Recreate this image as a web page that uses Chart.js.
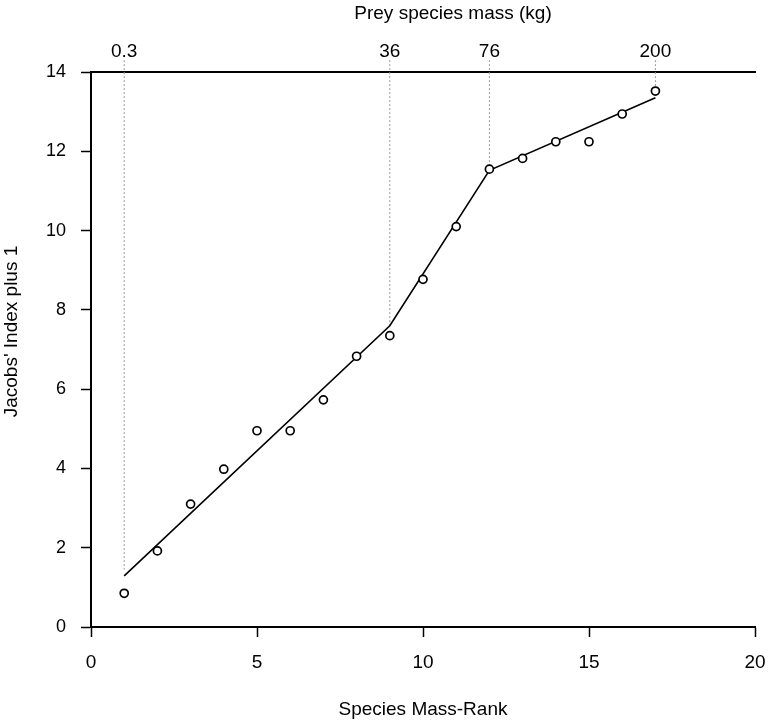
<!DOCTYPE html>
<html>
<head>
<meta charset="utf-8">
<script src="https://cdn.jsdelivr.net/npm/chart.js@4"></script>
<style>
  body { margin: 0; background: #fff; }
</style>
</head>
<body>
<canvas id="prey-chart" width="768" height="725"></canvas>
<script>
// observed Jacobs' index (+1) by species mass rank
const massRank = [1, 2, 3, 4, 5, 6, 7, 8, 9, 10, 11, 12, 13, 14, 15, 16, 17];
const jacobsIndex = [0.85, 1.92, 3.1, 3.98, 4.95, 4.95, 5.73, 6.83, 7.35, 8.77, 10.1, 11.55, 11.82, 12.24, 12.24, 12.94, 13.52];

// piecewise linear fit
const fitRank = [1, 9, 12, 17];
const fitValue = [1.29, 7.6, 11.52, 13.35];

// top axis: prey mass at the break points
const topTickRank = [1, 9, 12, 17];
const topTickLabels = ["0.3", "36", "76", "200"];
const dropTop = 14.3;
const dropEnd = [1.45, 7.6, 11.65, 13.65];

const font = "'Liberation Sans', Arial, sans-serif";

const dropSets = topTickRank.map((r, i) => ({
  data: [{ x: r, y: dropTop }, { x: r, y: dropEnd[i] }],
  showLine: true,
  borderColor: "#9a9a9a",
  borderWidth: 1,
  borderDash: [2, 2],
  pointRadius: 0,
  clip: false,
  order: 3,
}));

// the original titles sit a little off the axis centres
const offsetTitles = {
  id: "offsetTitles",
  afterDraw(chart) {
    const { ctx, chartArea } = chart;
    ctx.save();
    ctx.fillStyle = "#000";
    ctx.font = "19px " + font;
    ctx.textAlign = "center";
    ctx.textBaseline = "middle";
    ctx.fillText("Prey species mass (kg)", (chartArea.left + chartArea.right) / 2 + 30, 14);
    ctx.translate(12, (chartArea.top + chartArea.bottom) / 2 - 18);
    ctx.rotate(-Math.PI / 2);
    ctx.fillText("Jacobs' Index plus 1", 0, 0);
    ctx.restore();
  },
};

new Chart(document.getElementById("prey-chart"), {
  type: "scatter",
  data: {
    datasets: [
      {
        label: "Observed",
        data: massRank.map((r, i) => ({ x: r, y: jacobsIndex[i] })),
        pointStyle: "circle",
        pointRadius: 4,
        pointBorderWidth: 1.7,
        pointBorderColor: "#000",
        pointBackgroundColor: "#fff",
        order: 0,
      },
      {
        label: "Fit",
        data: fitRank.map((r, i) => ({ x: r, y: fitValue[i] })),
        showLine: true,
        borderColor: "#000",
        borderWidth: 1.6,
        pointRadius: 0,
        order: 1,
      },
      ...dropSets,
    ],
  },
  options: {
    responsive: false,
    animation: false,
    layout: { padding: 0 },
    plugins: {
      legend: { display: false },
      tooltip: { enabled: false },
    },
    scales: {
      x: {
        type: "linear",
        position: "bottom",
        min: 0,
        max: 20,
        afterFit: (s) => { s.height = 98; s.paddingRight = 13; },
        ticks: { stepSize: 5, color: "#000", font: { family: font, size: 19 }, padding: 14 },
        grid: { drawOnChartArea: false, tickLength: 10, color: "#000", tickWidth: 1.5 },
        border: { color: "#000", width: 2 },
        title: {
          display: true,
          text: "Species Mass-Rank",
          color: "#000",
          font: { family: font, size: 19 },
          padding: { top: 8 },
        },
      },
      x2: {
        type: "linear",
        position: "top",
        min: 0,
        max: 20,
        afterFit: (s) => { s.height = 72; s.paddingRight = 13; },
        afterBuildTicks: (s) => { s.ticks = topTickRank.map((v) => ({ value: v })); },
        ticks: {
          color: "#000",
          font: { family: font, size: 19 },
          padding: 1,
          autoSkip: false,
          maxRotation: 0,
          callback: (v) => topTickLabels[topTickRank.indexOf(v)],
        },
        grid: { display: false },
        border: { color: "#000", width: 2 },
      },
      y: {
        type: "linear",
        min: 0,
        max: 14,
        afterFit: (s) => { s.width = 91; },
        ticks: { stepSize: 2, color: "#000", font: { family: font, size: 18 }, padding: 15 },
        grid: { drawOnChartArea: false, tickLength: 10, color: "#000", tickWidth: 1.5 },
        border: { color: "#000", width: 2 },
      },
    },
  },
  plugins: [offsetTitles],
});
</script>
</body>
</html>
